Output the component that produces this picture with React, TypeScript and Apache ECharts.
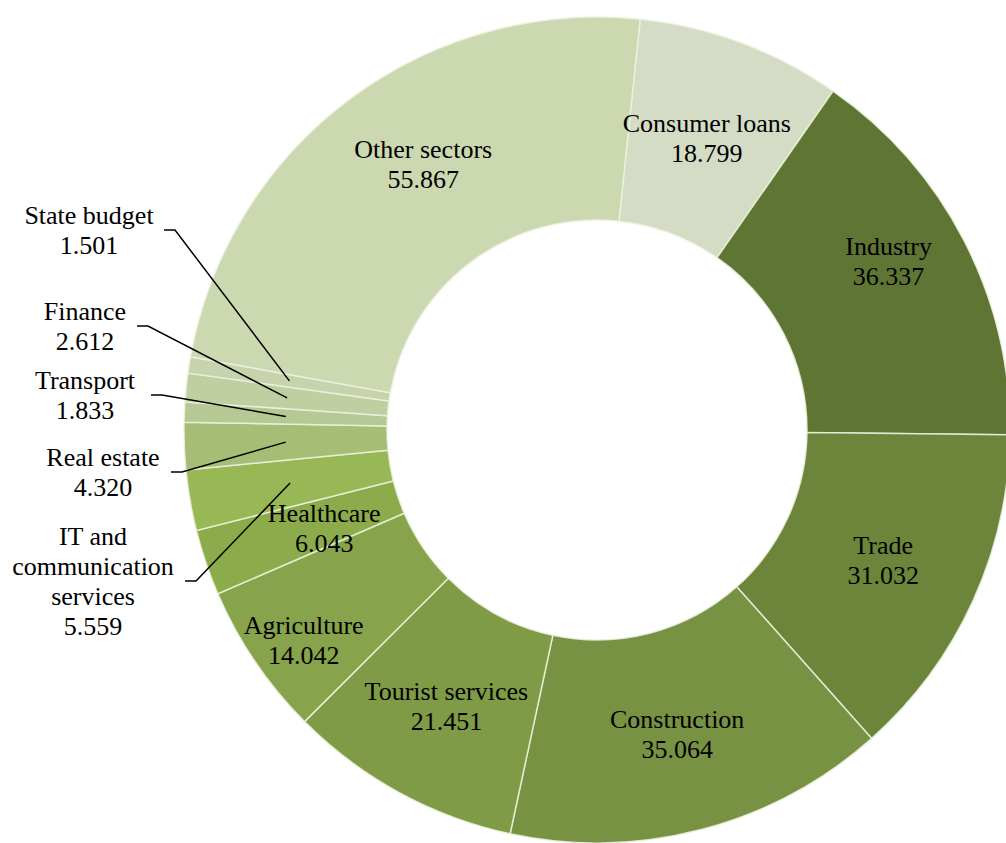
import React, { useEffect, useRef } from "react";
import * as echarts from "echarts";

const categories = [
  "Consumer loans",
  "Industry",
  "Trade",
  "Construction",
  "Tourist services",
  "Agriculture",
  "Healthcare",
  "IT and communication services",
  "Real estate",
  "Transport",
  "Finance",
  "State budget",
  "Other sectors",
];
const values = [18.799, 36.337, 31.032, 35.064, 21.451, 14.042, 6.043, 5.559, 4.32, 1.833, 2.612, 1.501, 55.867];
const labelNames = [
  "Consumer loans",
  "Industry",
  "Trade",
  "Construction",
  "Tourist services",
  "Agriculture",
  "Healthcare",
  "IT and\ncommunication\nservices",
  "Real estate",
  "Transport",
  "Finance",
  "State budget",
  "Other sectors",
];
const colors = [
  "#d5dcc5", "#5f7533", "#6d853b", "#789244", "#809b46", "#87a34b", "#8cab4b",
  "#97b854", "#a5bd75", "#b6c894", "#c0cfa2", "#c7d3ad", "#cbd8b0",
];

// layout constants
const CX = 597;
const CY = 430;
const R_IN = 210;
const R_OUT = 413;
const START = 84;
const FONT = "'Liberation Serif', 'Times New Roman', serif";

// outside label placements: label block centre and leader stub start
const outsideLabels: Record<string, { x: number; y: number; sx: number }> = {
  "State budget": { x: 89, y: 230, sx: 164 },
  Finance: { x: 85, y: 326, sx: 137 },
  Transport: { x: 85, y: 395, sx: 151 },
  "Real estate": { x: 103, y: 472, sx: 171 },
  "IT and communication services": { x: 93, y: 581, sx: 185 },
};
// small nudges for inside labels
const insideNudge: Record<string, [number, number]> = {
  Industry: [12, -25],
  Agriculture: [-33, 34],
  "Other sectors": [15, -14],
  Healthcare: [25, -2],
  "Consumer loans": [0, 3],
};

export default function App() {
  const ref = useRef<HTMLDivElement>(null);
  useEffect(() => {
    if (!ref.current) return;
    const chart = echarts.init(ref.current, null, { renderer: "svg" });
    const total = values.reduce((a, b) => a + b, 0);
    const cum: number[] = [];
    let acc = 0;
    values.forEach((v) => {
      cum.push(acc + v / 2);
      acc += v;
    });
    const midPoint = (i: number) => {
      const a = ((START - (cum[i] / total) * 360) * Math.PI) / 180;
      const r = (R_IN + R_OUT) / 2;
      return [CX + r * Math.cos(a), CY - r * Math.sin(a)];
    };
    const data = categories.map((name, i) => {
      const outside = outsideLabels[name] !== undefined;
      return {
        name,
        value: values[i],
        itemStyle: { color: colors[i] },
        label: { position: outside ? "outside" : "inside" },
      };
    });
    const leaders: any[] = [];
    categories.forEach((name, i) => {
      const o = outsideLabels[name];
      if (!o) return;
      const m = midPoint(i);
      leaders.push({
        type: "polyline",
        z: 100,
        silent: true,
        shape: {
          points: [
            [o.sx, o.y],
            [o.sx + 11, o.y],
            [m[0], m[1]],
          ],
        },
        style: { stroke: "#000", lineWidth: 1.5, fill: "none" },
      });
    });
    chart.setOption({
      animation: false,
      textStyle: { fontFamily: FONT },
      graphic: { elements: leaders },
      series: [
        {
          type: "pie",
          center: [CX, CY],
          radius: [R_IN, R_OUT],
          startAngle: START,
          clockwise: true,
          avoidLabelOverlap: false,
          data,
          itemStyle: {
            borderColor: "rgba(236,242,222,0.85)",
            borderWidth: 1.5,
          },
          label: {
            show: true,
            fontFamily: FONT,
            fontSize: 26,
            lineHeight: 30,
            color: "#000",
            align: "center",
            formatter: (p: any) => labelNames[p.dataIndex] + "\n" + p.value.toFixed(3),
          },
          labelLine: { show: false },
          labelLayout: (params: any) => {
            const i = params.dataIndex;
            const name = categories[i];
            const o = outsideLabels[name];
            if (o) {
              return { x: o.x, y: o.y, align: "center", verticalAlign: "middle" };
            }
            const n = insideNudge[name];
            if (n) return { dx: n[0], dy: n[1] };
            return {};
          },
        },
      ],
    });
    return () => chart.dispose();
  }, []);
  return (
    <div
      ref={ref}
      style={{ position: "fixed", left: 0, top: 0, width: 1006, height: 843, background: "#fff" }}
    />
  );
}
